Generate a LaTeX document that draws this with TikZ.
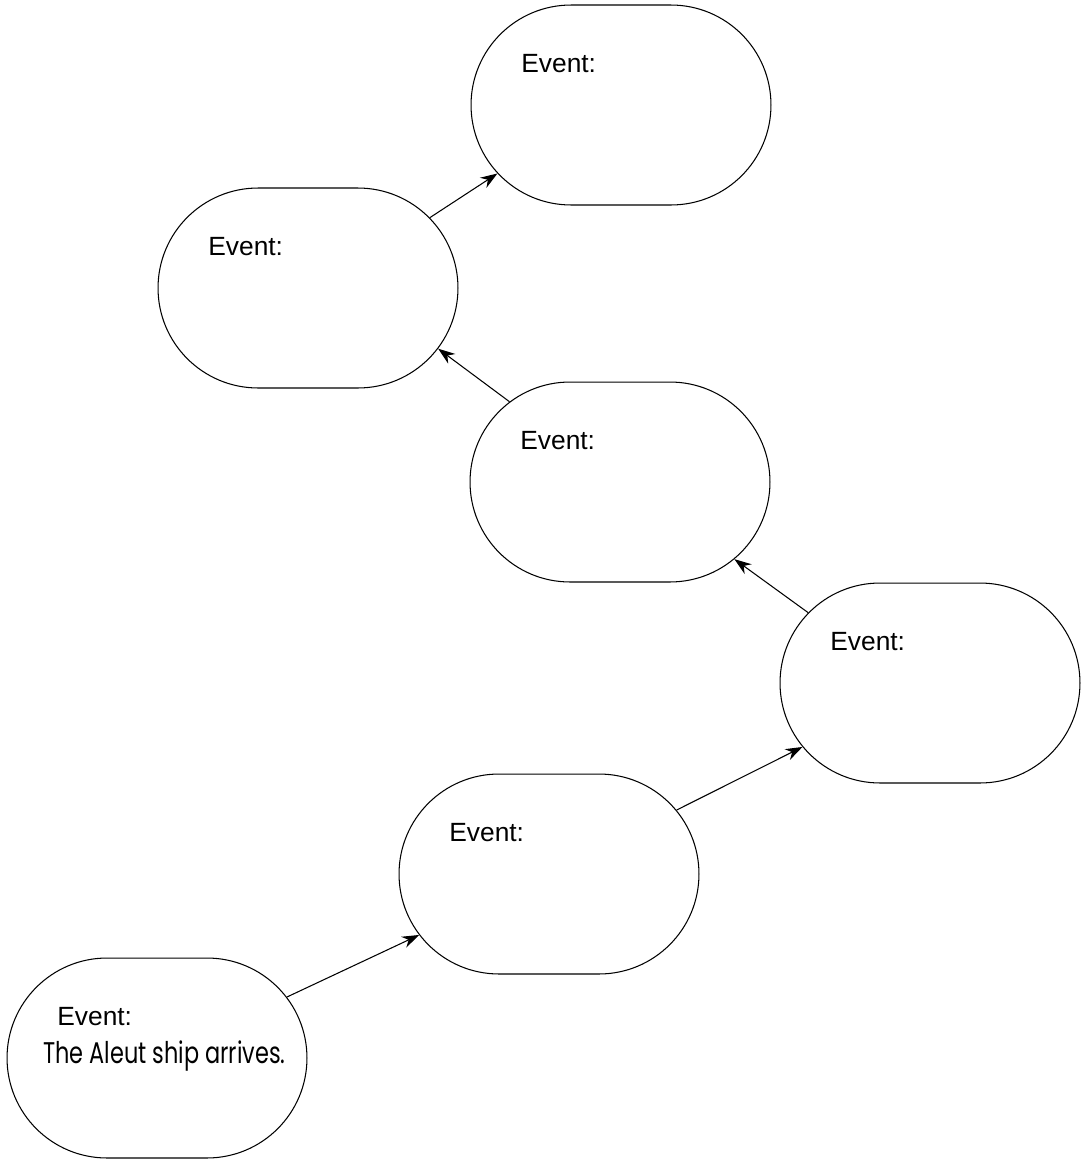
\documentclass[tikz,border=0pt]{standalone}
\usepackage{fontspec}
\setmainfont{Liberation Sans}
\newfontfamily\handfont[FakeStretch=0.75]{Poppins}
\usetikzlibrary{shapes.misc,arrows.meta,calc}

\begin{document}
\begin{tikzpicture}[x=0.02cm,y=-0.02cm,
  event/.style={draw,rounded rectangle,minimum width=6cm,minimum height=4cm,line width=0.6pt,inner sep=0pt},
  evlabel/.style={anchor=base west,inner sep=0pt,font=\fontsize{15}{18}\selectfont},
  link/.style={-{Stealth[length=0.34cm,width=0.24cm]},line width=0.6pt}]
\useasboundingbox (0,0) rectangle (1083,1160);

% the events, from the first (bottom left) to the last (top)
\node[event] (E1) at (157,1058) {};
\node[event] (E2) at (549,874) {};
\node[event] (E3) at (930,683) {};
\node[event] (E4) at (620,482) {};
\node[event] (E5) at (308,288) {};
\node[event] (E6) at (621,105) {};

\foreach \n in {1,...,6}
  \node[evlabel] (L\n) at ($(E\n)+(-100,-33)$) {Event:};

\node[anchor=base west,inner sep=0pt,font=\handfont\fontsize{17}{20}\selectfont] (T1) at ($(E1)+(-114,5)$) {The Aleut ship arrives.};

\draw[link] (E1) -- (E2);
\draw[link] (E2) -- (E3);
\draw[link] (E3.150) -- (E4.-34);
\draw[link] (E4.144) -- (E5.-25);
\draw[link] (E5.30) -- (E6.-151);

\end{tikzpicture}
\end{document}
